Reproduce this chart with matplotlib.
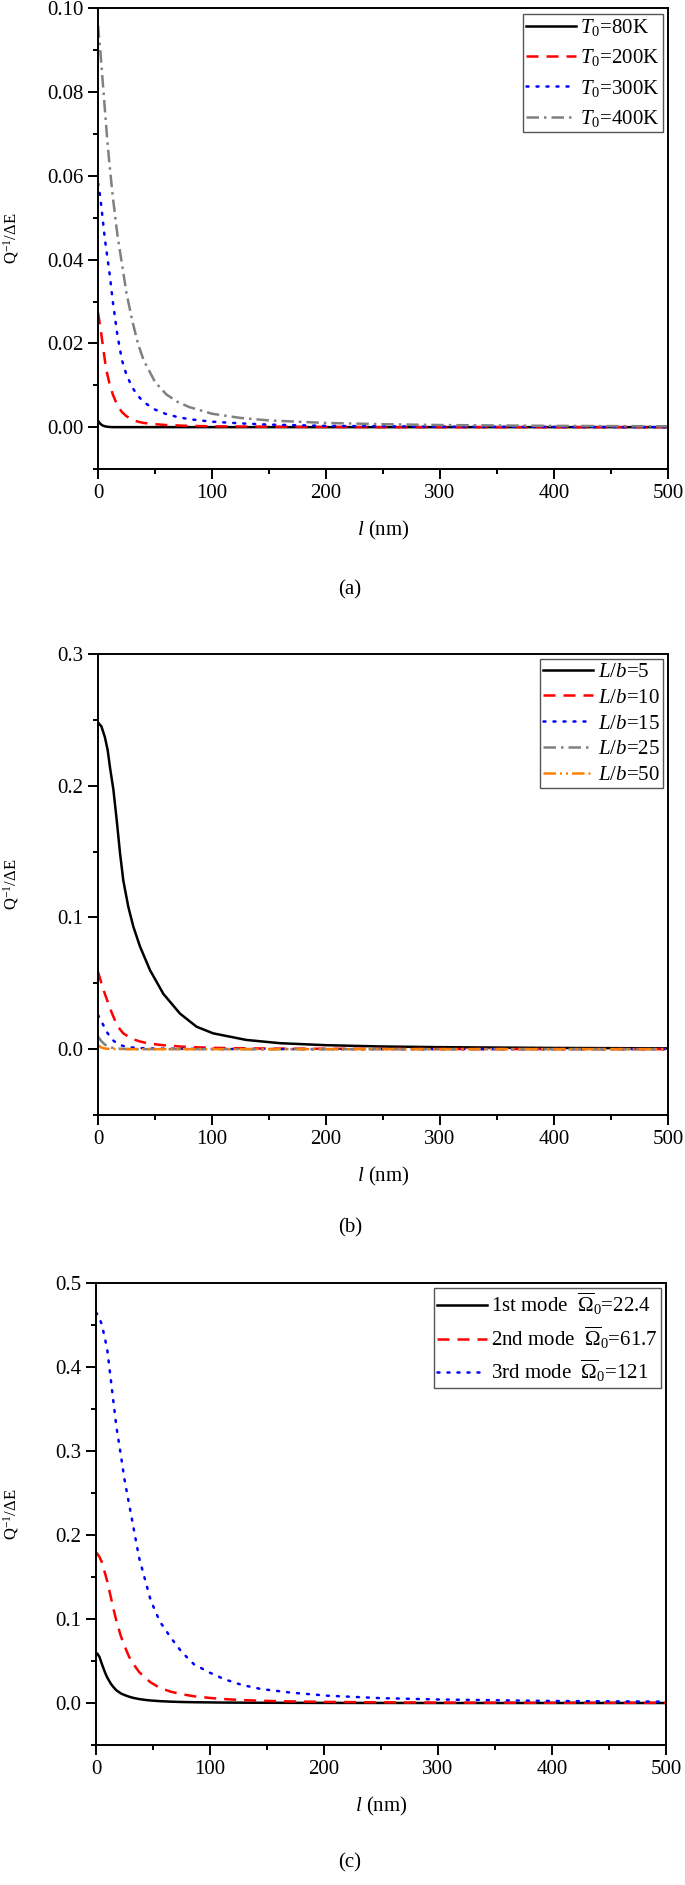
import matplotlib
matplotlib.use('Agg')
import matplotlib.pyplot as plt
from matplotlib.ticker import MultipleLocator, FormatStrFormatter

plt.rcParams['font.family'] = ['Liberation Serif', 'DejaVu Serif']
plt.rcParams['mathtext.fontset'] = 'custom'
plt.rcParams['mathtext.rm'] = 'Liberation Serif'
plt.rcParams['mathtext.it'] = 'Liberation Serif:italic'
plt.rcParams['mathtext.bf'] = 'Liberation Serif:bold'

# ---- panel (a): temperature ----
l_a = [0, 2, 4, 6, 8, 10, 13, 17, 21, 25, 30, 35, 40, 50, 60, 70, 80, 100, 125, 150, 200, 250, 300, 400, 500]
t80 = [0.0015, 0.0008, 0.0004, 0.0002, 0.0001, 0.00005, 0, 0, 0, 0, 0, 0, 0, 0, 0, 0, 0, 0, 0, 0, 0, 0, 0, 0, 0]
t200 = [0.0274, 0.024, 0.020, 0.016, 0.0128, 0.0105, 0.0078, 0.0052, 0.0036, 0.0026, 0.0018, 0.0013, 0.0010,
        0.0007, 0.0005, 0.0004, 0.0003, 0.0002, 0.00015, 0.0001, 0.00005, 0, 0, 0, 0]
t300 = [0.0583, 0.055, 0.050, 0.045, 0.041, 0.037, 0.030, 0.022, 0.016, 0.0125, 0.0095, 0.0075, 0.006,
        0.0042, 0.0031, 0.0024, 0.0019, 0.0013, 0.0009, 0.0006, 0.0003, 0.0002, 0.0001, 0.00005, 0]
t400 = [0.096, 0.090, 0.083, 0.076, 0.069, 0.063, 0.055, 0.046, 0.039, 0.032, 0.0255, 0.020, 0.016,
        0.0108, 0.0078, 0.0060, 0.0048, 0.0032, 0.0022, 0.0016, 0.0010, 0.0007, 0.0005, 0.0003, 0.0002]
labels_a = [r'$T_0$=80K', r'$T_0$=200K', r'$T_0$=300K', r'$T_0$=400K']

# ---- panel (b): aspect ratio ----
l_b = [0, 3, 6, 8.5, 10.5, 13.5, 16.4, 19.3, 22.2, 26.6, 31, 36.8, 45.6, 57.3, 71.9, 86.5, 101, 130, 160,
       200, 250, 300, 400, 500]
lb5 = [0.248, 0.245, 0.237, 0.227, 0.214, 0.197, 0.174, 0.149, 0.128, 0.108, 0.093, 0.078, 0.060, 0.042,
       0.027, 0.017, 0.012, 0.007, 0.0045, 0.003, 0.002, 0.0015, 0.0009, 0.0006]
lb10 = [0.0588, 0.050, 0.042, 0.036, 0.031, 0.0247, 0.019, 0.015, 0.012, 0.0095, 0.0075, 0.0058, 0.0041,
        0.003, 0.002, 0.0014, 0.001, 0.0006, 0.0004, 0.0003, 0.0002, 0.0001, 0.00005, 0]
lb15 = [0.026, 0.021, 0.016, 0.012, 0.0095, 0.0065, 0.0045, 0.0032, 0.0024, 0.0016, 0.0012, 0.0008, 0.0005,
        0.0004, 0.0003, 0.0002, 0.00015, 0.0001, 0.00005, 0, 0, 0, 0, 0]
lb25 = [0.0095, 0.006, 0.0035, 0.0022, 0.0015, 0.0008, 0.0005, 0.0003, 0.0002, 0.0001, 0.00005, 0, 0, 0,
        0, 0, 0, 0, 0, 0, 0, 0, 0, 0]
lb50 = [0.003, 0.0012, 0.0005, 0.0003, 0.0002, 0.0001, 0, 0, 0, 0, 0, 0, 0, 0, 0, 0, 0, 0, 0, 0, 0, 0, 0, 0]
labels_b = [r'$L/b$=5', r'$L/b$=10', r'$L/b$=15', r'$L/b$=25', r'$L/b$=50']

# ---- panel (c): vibration modes ----
l_c = [0, 1, 3, 5, 8, 10, 13, 15.5, 18, 21.7, 25, 29, 33, 37.8, 43, 48, 56, 65.5, 75, 86, 100, 112, 128,
       144.5, 170, 203, 250, 300, 400, 500]
mode1 = [0.0583, 0.059, 0.055, 0.047, 0.036, 0.030, 0.023, 0.0186, 0.015, 0.0115, 0.0095, 0.0075, 0.006,
         0.0047, 0.0037, 0.003, 0.0022, 0.0016, 0.0012, 0.0009, 0.0007, 0.0005, 0.0004, 0.0003, 0.0002,
         0.0001, 0.00005, 0, 0, 0]
mode2 = [0.179, 0.178, 0.174, 0.168, 0.154, 0.144, 0.126, 0.111, 0.097, 0.080, 0.068, 0.055, 0.046, 0.037,
         0.030, 0.0245, 0.018, 0.0135, 0.0105, 0.008, 0.006, 0.0047, 0.0035, 0.0027, 0.0019, 0.0013, 0.0008,
         0.0005, 0.0003, 0.0002]
mode3 = [0.465, 0.463, 0.458, 0.451, 0.433, 0.419, 0.385, 0.356, 0.328, 0.296, 0.266, 0.237, 0.208, 0.173,
         0.147, 0.122, 0.097, 0.078, 0.061, 0.046, 0.036, 0.0286, 0.0215, 0.0167, 0.0125, 0.0087, 0.0058,
         0.0042, 0.0024, 0.0016]
labels_c = [r'1st mode  $\overline{\Omega}_0$=22.4', r'2nd mode  $\overline{\Omega}_0$=61.7',
            r'3rd mode  $\overline{\Omega}_0$=121']

styles = [
    dict(color='black', linestyle='-'),
    dict(color='red', linestyle=(0, (4.8, 3.2))),
    dict(color='blue', linestyle=(0, (0.8, 3.2)), dash_capstyle='round'),
    dict(color='#808080', linestyle=(0, (5, 2, 1, 2))),
    dict(color='#FF7F00', linestyle=(0, (5, 1.6, 0.8, 1.6, 0.8, 1.6))),
]

W, H = 685, 1885
fig = plt.figure(figsize=(W / 100, H / 100), dpi=100)


def make_axes(left, top, right, bottom):
    return fig.add_axes([left / W, 1 - bottom / H, (right - left) / W, (bottom - top) / H])


def style_axes(ax, left, ylim, ymaj, ymin, yfmt):
    ax.set_xlim(0, 500)
    ax.set_ylim(*ylim)
    ax.xaxis.set_major_locator(MultipleLocator(100))
    ax.xaxis.set_minor_locator(MultipleLocator(50))
    ax.yaxis.set_major_locator(MultipleLocator(ymaj))
    ax.yaxis.set_minor_locator(MultipleLocator(ymin))
    ax.yaxis.set_major_formatter(FormatStrFormatter(yfmt))
    for sp in ax.spines.values():
        sp.set_linewidth(1.4)
    ax.tick_params(which='both', direction='out', top=False, right=False, width=1.4, labelsize=15)
    ax.tick_params(which='major', length=7)
    ax.tick_params(which='minor', length=3.5)
    ax.set_xlabel(r'$l$ (nm)', fontsize=15, labelpad=12)
    ax.set_ylabel(r'Q$^{\mathregular{-1}}$/ΔE', fontsize=12)
    # right edge of the rotated label sits ~20 px from the figure edge
    ax.yaxis.set_label_coords((21 - left) / 570, 0.5)


def add_legend(ax, spacing):
    leg = ax.legend(loc='upper right', fontsize=15, handlelength=2.4, handletextpad=0.2,
                    labelspacing=spacing, borderpad=0.15, borderaxespad=0.25, fancybox=False,
                    framealpha=1)
    leg.get_frame().set_edgecolor('#555555')
    leg.get_frame().set_linewidth(1.0)


ax_a = make_axes(98, 8.5, 668, 469)
for ys, lab, st in zip([t80, t200, t300, t400], labels_a, styles):
    ax_a.plot(l_a, ys, lw=1.8, label=lab, **st)
style_axes(ax_a, 98, (-0.01, 0.10), 0.02, 0.01, '%.2f')
add_legend(ax_a, 0.45)

ax_b = make_axes(98, 654, 668, 1115)
for ys, lab, st in zip([lb5, lb10, lb15, lb25, lb50], labels_b, styles):
    ax_b.plot(l_b, ys, lw=1.8, label=lab, **st)
style_axes(ax_b, 98, (-0.05, 0.30), 0.1, 0.05, '%.1f')
add_legend(ax_b, 0.3)

ax_c = make_axes(96, 1283, 666, 1745)
for ys, lab, st in zip([mode1, mode2, mode3], labels_c, styles):
    ax_c.plot(l_c, ys, lw=1.8, label=lab, **st)
style_axes(ax_c, 96, (-0.05, 0.50), 0.1, 0.05, '%.1f')
add_legend(ax_c, 0.35)

for lab, yc in [('(a)', 590), ('(b)', 1228), ('(c)', 1863)]:
    fig.text(350 / W, 1 - yc / H, lab, ha='center', va='center', fontsize=15)

fig.savefig('out.png', dpi=100)
